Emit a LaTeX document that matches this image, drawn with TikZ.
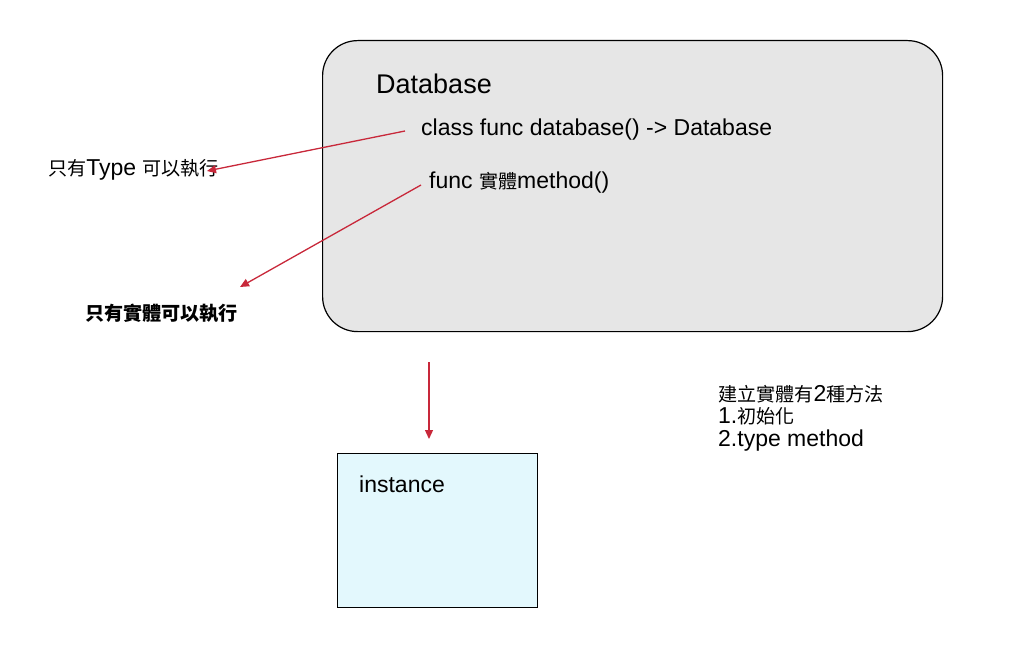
\documentclass[tikz,border=0pt]{standalone}
\usepackage{fontspec}
\setmainfont{Liberation Sans}
\newfontfamily\cjk[Scale=0.83]{Noto Sans CJK TC}
\usetikzlibrary{arrows.meta}
\definecolor{arrred}{HTML}{C8283A}
\definecolor{boxgray}{HTML}{E6E6E6}
\definecolor{boxcyan}{HTML}{E3F8FD}
\begin{document}
\begin{tikzpicture}[x=1pt,y=-1pt,
  arr/.style={draw=arrred,line width=1.3pt,-{Triangle[length=9pt,width=8pt]}},
  lbl/.style={inner sep=0pt,anchor=west,font=\fontsize{23}{26}\selectfont}]
\useasboundingbox (0,0) rectangle (1015,650);
\node[draw=black,line width=1.2pt,fill=boxgray,rounded corners=35pt,minimum width=620pt,minimum height=291pt,anchor=north west,inner sep=0pt] (db) at (322,40) {};
\node[draw=black,line width=1.2pt,fill=boxcyan,minimum width=200pt,minimum height=154pt,anchor=north west,inner sep=0pt] (inst) at (337,453) {};
\node[lbl,font=\fontsize{27}{30}\selectfont] (dbt) at (376,84) {Database};
\node[lbl] (cf) at (421,130) {class func database() -> Database};
\node[lbl] (fm) at (429,183) {func {\cjk 實體}method()};
\node[lbl] (l1) at (48,170) {{\cjk 只有}Type {\cjk 可以執行}};
\node[lbl] (l2) at (85,313) {\cjk\bfseries 只有實體可以執行};
\node[lbl] (it) at (359,484) {instance};
\node[lbl,align=left,anchor=north west,font=\fontsize{23}{22.5}\selectfont] (note) at (718,385) {{\cjk 建立實體有}2{\cjk 種方法}\\1.{\cjk 初始化}\\2.type method};
\coordinate (a1s) at (405,131);
\coordinate (a1e) at (207,171);
\coordinate (a2s) at (421,185);
\coordinate (a2e) at (240,287);
\coordinate (a3s) at (429,362);
\coordinate (a3e) at (429,439);
\draw[arr] (a1s) -- (a1e);
\draw[arr] (a2s) -- (a2e);
\draw[arr] (a3s) -- (a3e);
\end{tikzpicture}
\end{document}
